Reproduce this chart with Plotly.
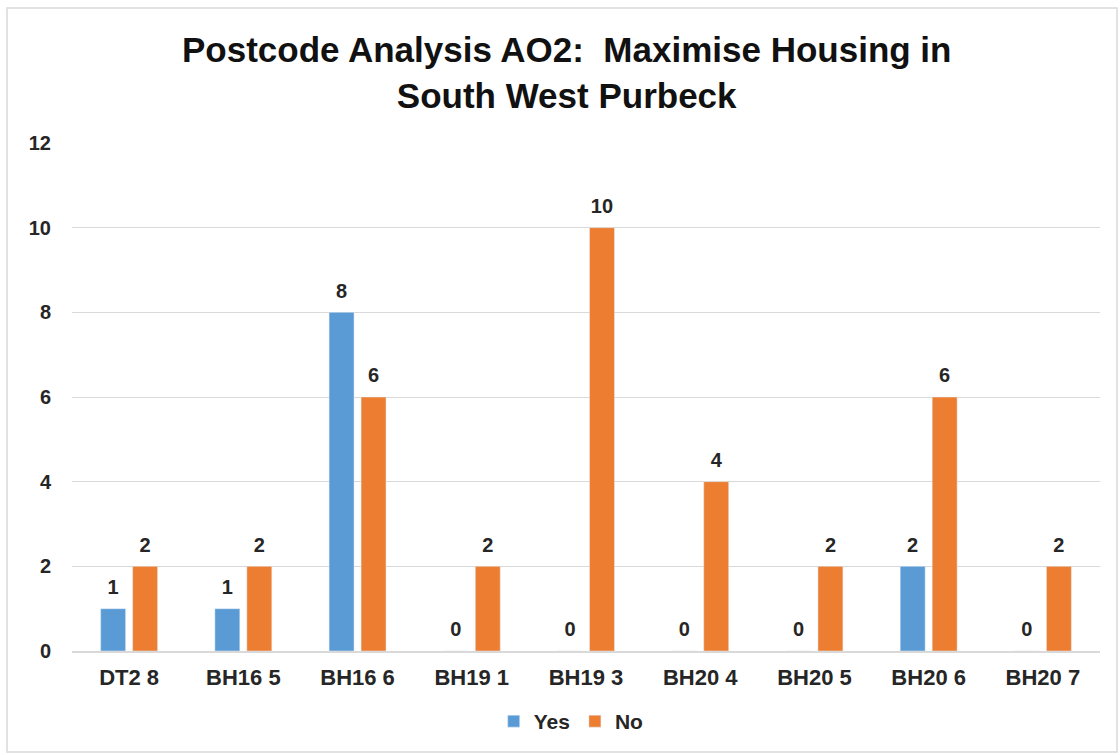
import plotly.graph_objects as go

categories = ["DT2 8", "BH16 5", "BH16 6", "BH19 1", "BH19 3", "BH20 4", "BH20 5", "BH20 6", "BH20 7"]
yes_values = [1, 1, 8, 0, 0, 0, 0, 2, 0]
no_values = [2, 2, 6, 2, 10, 4, 2, 6, 2]
y_ticks = [0, 2, 4, 6, 8, 10, 12]

FONT = "Liberation Sans, Arial, sans-serif"
TXT = "#262626"

series = [("Yes", yes_values, "#5B9BD5"), ("No", no_values, "#ED7D31")]

fig = go.Figure()
for name, vals, col in series:
    fig.add_trace(go.Bar(
        name="<b>" + name + "</b>", x=categories, y=vals, marker_color=col,
        offsetgroup=name,
    ))
for name, vals, col in series:
    fig.add_trace(go.Scatter(
        x=categories, y=vals, mode="markers+text", offsetgroup=name,
        text=["<b>" + str(v) + "</b>" for v in vals], textposition="top center",
        marker=dict(size=14, opacity=0), cliponaxis=False, showlegend=False,
        textfont=dict(family=FONT, size=20, color=TXT), hoverinfo="skip",
    ))

W, H = 1120, 755
ml, mr, mt, mb = 72, 20, 143, 104

fig.update_layout(
    width=W, height=H,
    margin=dict(l=ml, r=mr, t=mt, b=mb, autoexpand=False),
    paper_bgcolor="white", plot_bgcolor="white",
    barmode="group", bargap=0.44, bargroupgap=0.22,
    scattermode="group", scattergap=0.44,
    font=dict(family=FONT, color=TXT),
    title=dict(
        text="<b>Postcode Analysis AO2:  Maximise Housing in<br>South West Purbeck</b>",
        x=0.506, xref="container", xanchor="center",
        y=1 - 62 / H, yref="container", yanchor="top",
        font=dict(family=FONT, size=35, color="#111111"),
    ),
    legend=dict(
        orientation="h", x=0.51, xref="container", xanchor="center",
        y=1 - 701 / H, yref="container", yanchor="top",
        font=dict(family=FONT, size=21, color=TXT),
        itemwidth=30, traceorder="normal",
    ),
    showlegend=True,
)
fig.update_xaxes(
    showgrid=False, showline=True, linecolor="#D9D9D9", linewidth=1.5,
    ticks="", tickfont=dict(family=FONT, size=22, color=TXT),
    tickvals=categories, ticktext=["<b>" + c + "</b>" for c in categories],
    ticklabelstandoff=6,
)
fig.update_yaxes(
    range=[0, 12], tickvals=y_ticks, ticktext=["<b>" + str(v) + "</b>" for v in y_ticks],
    showgrid=True, gridcolor="#D9D9D9", gridwidth=1, zeroline=False, showline=False,
    ticks="", tickfont=dict(family=FONT, size=20, color=TXT),
    ticklabelstandoff=20,
)

# outer chart border
def px(x):
    return (x - ml) / (W - ml - mr)

def py(y):
    return (H - mb - y) / (H - mt - mb)

fig.add_shape(type="rect", xref="paper", yref="paper",
              x0=px(7), x1=px(1117), y0=py(752), y1=py(8),
              line=dict(color="#D9D9D9", width=1.5), fillcolor="rgba(0,0,0,0)",
              layer="below")

fig.write_html("out.html", config={"displayModeBar": False},
               post_script="document.body.style.margin='0';")
